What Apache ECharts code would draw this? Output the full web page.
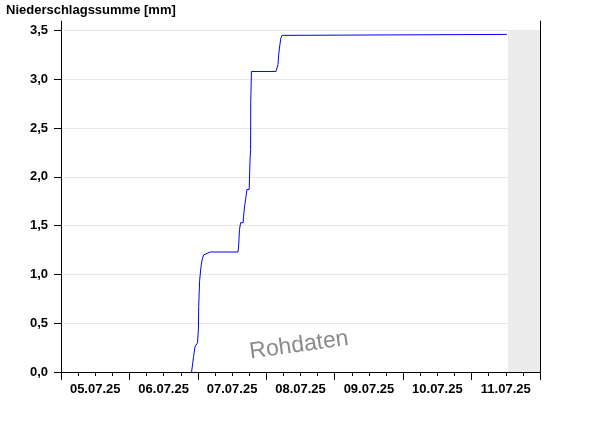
<!DOCTYPE html>
<html>
<head>
<meta charset="utf-8">
<script src="https://cdn.jsdelivr.net/npm/echarts@6/dist/echarts.min.js"></script>
<style>
html,body{margin:0;padding:0;background:#fff;}
#chart{width:600px;height:426px;}
</style>
</head>
<body>
<div id="chart"></div>
<script>
// hours since start of the 7-day window, accumulated precipitation in mm
var dayLabels = ['05.07.25','06.07.25','07.07.25','08.07.25','09.07.25','10.07.25','11.07.25'];
var hours = [45.8,46.5,47.0,47.7,47.9,48.2,48.3,48.6,49.1,49.5,50.0,52.4,62.1,62.3,62.6,63.0,63.9,64.0,64.4,64.9,65.2,66.0,66.3,66.5,66.55,66.8,75.4,75.7,76.1,76.4,76.8,77.1,77.5,78.1,156.4];
var sums  = [0.00,0.16,0.26,0.26,0.30,0.45,0.67,0.93,1.08,1.15,1.20,1.23,1.23,1.29,1.46,1.53,1.53,1.59,1.70,1.80,1.87,1.87,2.18,2.28,2.77,3.08,3.08,3.10,3.15,3.27,3.36,3.42,3.45,3.46,3.46];
var noDataFrom = 156.8;

var chart = echarts.init(document.getElementById('chart'));
var lineData = hours.map(function(h,i){ return [h, sums[i]]; });
var fnt = '"Liberation Sans", Arial, sans-serif';

chart.setOption({
	animation: false,
	title: {
		text: 'Niederschlagssumme [mm]',
		left: 6, top: 4, padding: 0,
		textStyle: {fontFamily: fnt, fontSize: 13, fontWeight: 'bold', color: '#000'}
	},
	grid: [
		{left: 61, right: 60, top: 30.5, bottom: 54},
		{left: 61, right: 60, top: 21, bottom: 54}
	],
	xAxis: [
		{
			type: 'value', gridIndex: 0, min: 0, max: 168, interval: 24,
			axisLine: {lineStyle: {color: '#000', width: 1}},
			axisTick: {length: 8, lineStyle: {color: '#000'}},
			minorTick: {show: true, splitNumber: 4, length: 4, lineStyle: {color: '#000'}},
			axisLabel: {show: false},
			splitLine: {show: false}
		},
		{
			type: 'category', gridIndex: 1, data: dayLabels, boundaryGap: true,
			axisLine: {show: false}, axisTick: {show: false},
			axisLabel: {margin: 11, fontFamily: fnt, fontSize: 13, fontWeight: 'bold', color: '#000'}
		}
	],
	yAxis: [
		{
			type: 'value', gridIndex: 0, min: 0, max: 3.5, interval: 0.5,
			axisLine: {show: true, lineStyle: {color: '#000'}},
			axisTick: {show: true, length: 7, lineStyle: {color: '#000'}},
			axisLabel: {
				margin: 13, fontFamily: fnt, fontSize: 13, fontWeight: 'bold', color: '#000',
				formatter: function(v){ return v.toFixed(1).replace('.', ','); }
			},
			splitLine: {show: true, lineStyle: {color: '#e8e8e8', width: 1}}
		},
		{
			type: 'value', gridIndex: 1, position: 'left', min: 0, max: 1,
			axisLine: {show: true, lineStyle: {color: '#000'}},
			axisTick: {show: false}, axisLabel: {show: false}, splitLine: {show: false}
		},
		{
			type: 'value', gridIndex: 1, position: 'right', min: 0, max: 1,
			axisLine: {show: true, lineStyle: {color: '#000'}},
			axisTick: {show: false}, axisLabel: {show: false}, splitLine: {show: false}
		}
	],
	graphic: [{
		type: 'text', left: 248, top: 327, rotation: 0.14,
		style: {text: 'Rohdaten', font: '23px ' + fnt, fill: '#8a8a8a'}
	}],
	series: [{
		type: 'line', xAxisIndex: 0, yAxisIndex: 0,
		data: lineData, showSymbol: false, z: 5,
		lineStyle: {color: '#0000ff', width: 1},
		markArea: {
			silent: true,
			itemStyle: {color: '#ececec'},
			data: [[{xAxis: noDataFrom, yAxis: 0}, {xAxis: 168, yAxis: 3.5}]]
		}
	}]
});
</script>
</body>
</html>
